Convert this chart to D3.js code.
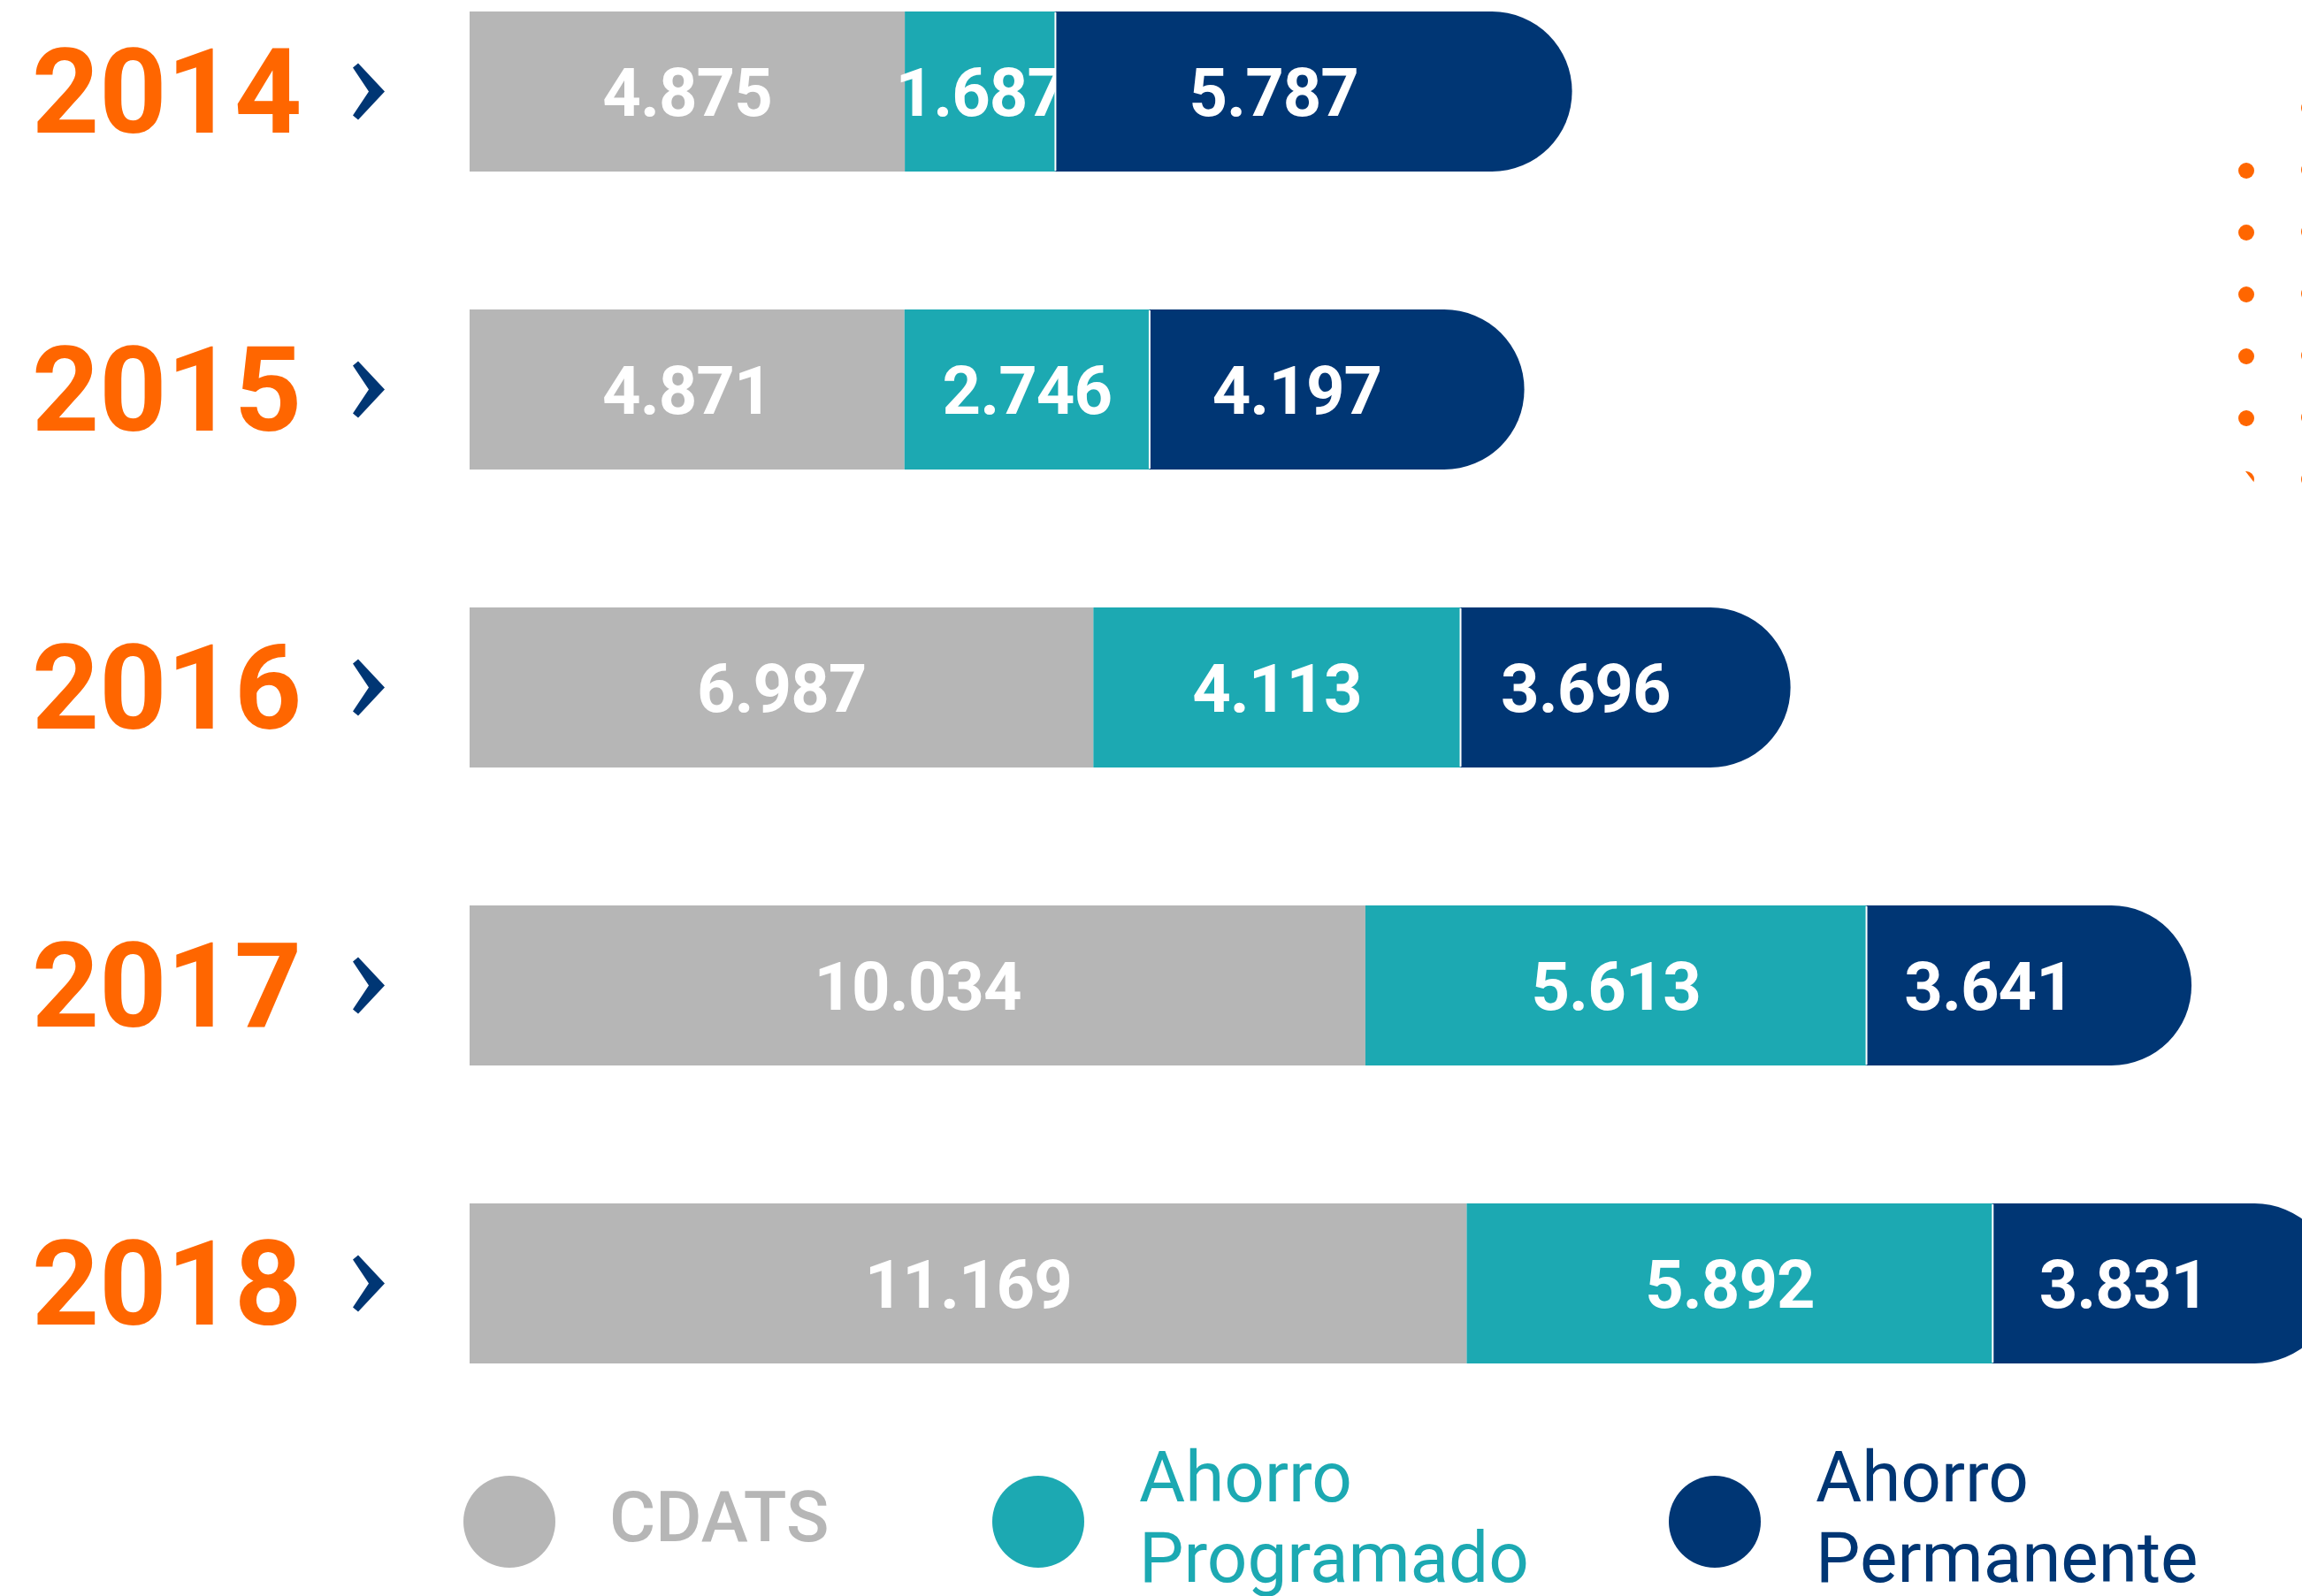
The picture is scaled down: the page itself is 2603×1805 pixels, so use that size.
<!DOCTYPE html>
<html>
<head>
<meta charset="utf-8">
<script src="https://cdn.jsdelivr.net/npm/d3@7"></script>
<style>
  body { margin: 0; background: #fff; overflow: hidden; }
  svg { display: block; }
</style>
</head>
<body>
<svg></svg>
<script>
// data
let years = ['2014', '2015', '2016', '2017', '2018'];
let seriesNames = ['CDATS', 'Ahorro Programado', 'Ahorro Permanente'];
let cdats = [4875, 4871, 6987, 10034, 11169];
let programado = [1687, 2746, 4113, 5613, 5892];
let permanente = [5787, 4197, 3696, 3641, 3831];

let legendLines = [['CDATS'], ['Ahorro', 'Programado'], ['Ahorro', 'Permanente']];

let svgWidth = 2603, svgHeight = 1805;
let colors = ['#b6b6b6', '#1ca9b2', '#003674'];
let orange = '#ff6600';

let svg = d3.select('svg')
            .attr('width', svgWidth)
            .attr('height', svgHeight);

let table = years.map((y, i) => ({
    year: y,
    'CDATS': cdats[i],
    'Ahorro Programado': programado[i],
    'Ahorro Permanente': permanente[i]
}));

let stacked = d3.stack().keys(seriesNames)(table);

let x = d3.scaleLinear()
          .domain([0, d3.max(table, d => d.CDATS + d['Ahorro Programado'] + d['Ahorro Permanente'])])
          .range([531, 2640]);

let step = 337, barH = 181;
let y = d3.scaleBand()
          .domain(years)
          .range([13, 13 + step * 4 + barH])
          .paddingInner((step - barH) / step)
          .paddingOuter(0);

let r = barH / 2;

let fmt = d3.formatLocale({decimal: ',', thousands: '.', grouping: [3], currency: ['$', '']}).format(',d');

// decorative orange dots on the right
let deco = svg.append('g').attr('fill', orange);
d3.range(5).forEach(i => deco.append('circle').attr('cx', 2540).attr('cy', 193 + i * 70).attr('r', 9));
d3.range(7).forEach(i => deco.append('circle').attr('cx', 2611).attr('cy', 122 + i * 70).attr('r', 9));
svg.append('clipPath').attr('id', 'dotcut')
   .append('polygon').attr('points', '2539,533 2570,533 2570,573');
deco.append('circle').attr('cx', 2540).attr('cy', 542).attr('r', 9).attr('clip-path', 'url(#dotcut)');

// bars
let layers = svg.selectAll('g.layer')
                .data(stacked)
                .enter()
                .append('g')
                .attr('class', 'layer')
                .attr('fill', (d, i) => colors[i]);

layers.each(function(layer, li) {
    let g = d3.select(this);
    let last = li === stacked.length - 1;
    g.selectAll('path')
     .data(layer)
     .enter()
     .append('path')
     .attr('d', d => {
         let x0 = x(d[0]), x1 = x(d[1]);
         let y0 = y(d.data.year), y1 = y0 + barH;
         if (last) {
             return 'M' + x0 + ',' + y0 + 'H' + (x1 - r) +
                    'A' + r + ',' + r + ' 0 0 1 ' + (x1 - r) + ',' + y1 +
                    'H' + x0 + 'Z';
         }
         return 'M' + x0 + ',' + y0 + 'H' + x1 + 'V' + y1 + 'H' + x0 + 'Z';
     });

    g.selectAll('text')
     .data(layer)
     .enter()
     .append('text')
     .attr('x', d => last ? (x(d[0]) + x(d[1]) - r) / 2 : (x(d[0]) + x(d[1])) / 2)
     .attr('y', d => y(d.data.year) + barH / 2 + 27)
     .attr('text-anchor', 'middle')
     .attr('fill', '#fff')
     .attr('font-family', 'Roboto, sans-serif')
     .attr('font-weight', 700)
     .attr('font-size', 76)
     .attr('letter-spacing', -1)
     .text(d => fmt(d[1] - d[0]));
});

// white divider between programado and permanente
svg.append('g').selectAll('line')
   .data(stacked[2])
   .enter()
   .append('line')
   .attr('x1', d => x(d[0])).attr('x2', d => x(d[0]))
   .attr('y1', d => y(d.data.year) + 1).attr('y2', d => y(d.data.year) + barH - 1)
   .attr('stroke', '#fff')
   .attr('stroke-width', 2);

// year labels and chevrons
let rows = svg.append('g').selectAll('g')
              .data(years)
              .enter()
              .append('g')
              .attr('transform', d => 'translate(0,' + (y(d) + barH / 2) + ')');

rows.append('text')
    .attr('x', 36)
    .attr('y', 46)
    .attr('fill', orange)
    .attr('font-family', 'Roboto, sans-serif')
    .attr('font-weight', 700)
    .attr('font-size', 133)
    .text(d => d);

rows.append('polygon')
    .attr('points', '-18,-27 -12,-32 18,0 -12,32 -18,27 0,0')
    .attr('transform', 'translate(417,0)')
    .attr('fill', '#003674');

// legend
let legendX = [576, 1174, 1939];
let legend = svg.append('g').selectAll('g')
                .data(seriesNames)
                .enter()
                .append('g')
                .attr('transform', (d, i) => 'translate(' + legendX[i] + ',1721)');

legend.append('circle')
      .attr('r', 52)
      .attr('fill', (d, i) => colors[i]);

legend.append('text')
      .attr('fill', (d, i) => colors[i])
      .attr('font-family', 'Roboto, sans-serif')
      .attr('font-weight', (d, i) => i === 0 ? 500 : 400)
      .attr('font-size', 80)
      .each(function(d, i) {
          let lines = legendLines[i];
          let t = d3.select(this);
          lines.forEach((s, k) => {
              t.append('tspan')
               .attr('x', i === 0 ? 113 : 114)
               .attr('y', lines.length === 1 ? 22 : (k === 0 ? -23 : 68))
               .text(s);
          });
      });
</script>
</body>
</html>
